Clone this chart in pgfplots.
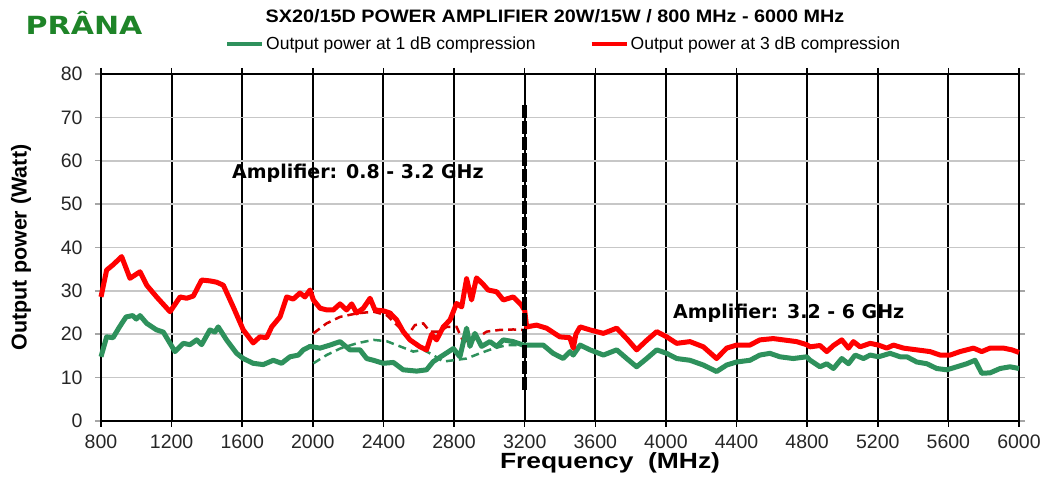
\documentclass[border=0pt]{standalone}
\usepackage{fontspec}
\setmainfont{Liberation Sans}
\newfontfamily\dejavu{DejaVu Sans}
\usepackage{pgfplots}
\pgfplotsset{compat=1.18}
\definecolor{rgreen}{RGB}{46,145,92}
\definecolor{rred}{RGB}{255,0,0}
\definecolor{logogreen}{RGB}{30,132,40}
\begin{document}
\begin{tikzpicture}
\path[use as bounding box] (0,0) rectangle (1045pt,478pt);
\begin{axis}[
  at={(101pt,57pt)}, anchor=south west,
  scale only axis, width=918pt, height=347pt,
  xmin=800, xmax=6000, ymin=0, ymax=80,
  xtick={800,1200,...,6000}, ytick={0,10,...,80},
  /pgf/number format/1000 sep={},
  /pgf/number format/assume math mode=true,
  ticklabel style={font=\fontsize{19.5}{19.5}\selectfont, text=black!85},
  xticklabel style={yshift=-4pt},
  yticklabel style={xshift=-9pt},
  tick align=outside,
  major tick length=6pt,
  x tick style={black, line width=1.5pt},
  y tick style={black!35, line width=1.5pt},
  axis line style={black, line width=2.5pt},
  xmajorgrids, ymajorgrids,
  major x grid style={black, line width=2pt},
  major y grid style={black!22, line width=1.6pt},
  xlabel={Frequency\ \ (MHz)},
  xlabel style={font=\fontsize{22}{22}\selectfont\bfseries, xscale=1.2, at={(axis description cs:0.5545,-0.121)}, anchor=center},
  ylabel={Output power (Watt)},
  ylabel style={font=\fontsize{21.5}{21.5}\selectfont\bfseries, at={(axis description cs:-0.087,0.5)}, anchor=center},
  legend style={draw=none, fill=none, font=\fontsize{17.5}{17.5}\selectfont,
    at={(0.504,1.0865)}, anchor=center, inner sep=0pt,
    /tikz/every even column/.append style={column sep=52pt},
    nodes={inner sep=2pt}},
  legend columns=2,
  legend image code/.code={\draw[#1, line width=4pt] (0pt,0pt) -- (35pt,0pt);},
  clip=false,
]
% dashed green
\addplot[rgreen, line width=2.5pt, dash pattern=on 8pt off 5pt, forget plot] coordinates {
(2003,13.3) (2078,15.2) (2154,16.7) (2248,17.9) (2343,18.7) (2418,18.4) (2494,17.2) (2569,16) (2626,16.4) (2682,15.2) (2739,13.7) (2796,14) (2871,14.4) (2946,15.6) (3022,16.7) (3098,17.5) (3200,17.5)};
% dashed red
\addplot[rred!85!black, line width=2.5pt, dash pattern=on 8pt off 5pt, forget plot] coordinates {
(2003,20.2) (2078,22.5) (2154,24) (2248,24.8) (2343,25.2) (2418,24.4) (2494,21.4) (2531,19.4) (2578,22.1) (2626,22.5) (2663,20.6) (2720,20.6) (2758,21.7) (2814,21.7) (2852,18.3) (2927,19) (2984,20.6) (3060,21) (3135,21.1) (3200,21)};
% green solid
\addplot[rgreen, line width=5pt, line join=round] coordinates {
(800,14.8) (832,19.4) (868,19.2) (905,21.7) (942,24) (980,24.3) (1000,23.5) (1021,24.3) (1059,22.5) (1115,21) (1153,20.5) (1219,16) (1266,17.9) (1304,17.6) (1342,18.7) (1370,17.6) (1417,21) (1445,20.5) (1464,21.7) (1511,18.7) (1568,15.6) (1606,14.4) (1662,13.3) (1719,13) (1776,14) (1823,13.3) (1870,14.8) (1918,15.2) (1946,16.4) (1984,17.2) (2041,16.8) (2097,17.5) (2154,18.3) (2210,16.4) (2267,16.4) (2305,14.4) (2343,14) (2399,13.3) (2456,13.5) (2512,11.8) (2588,11.5) (2644,11.8) (2682,13.7) (2739,15.2) (2796,16.7) (2833,14.8) (2871,21.4) (2890,17.2) (2918,20.2) (2956,17.2) (3003,18.3) (3041,17.2) (3079,18.7) (3135,18.3) (3192,17.5) (3248,17.5) (3305,17.5) (3361,15.6) (3418,14.4) (3457,16) (3475,15.2) (3514,17.5) (3570,16.4) (3646,15.2) (3721,16.4) (3778,14.4) (3834,12.5) (3891,14.4) (3948,16.4) (4004,15.6) (4061,14.4) (4136,14) (4212,12.9) (4287,11.4) (4344,12.9) (4400,13.6) (4476,14) (4532,15.2) (4589,15.6) (4646,14.8) (4721,14.4) (4797,14.8) (4817,14) (4873,12.5) (4911,13.2) (4949,12.1) (4996,14.4) (5034,13.2) (5072,15.2) (5119,14.4) (5157,15.2) (5204,14.8) (5270,15.6) (5327,14.8) (5365,14.8) (5421,13.6) (5478,13.2) (5534,12.1) (5591,11.8) (5648,12.5) (5704,13.2) (5751,14) (5789,11) (5836,11.1) (5893,12.1) (5949,12.5) (6000,12.1)};
\addlegendentry{Output power at 1 dB compression}
% red solid
\addplot[rred, line width=5pt, line join=round] coordinates {
(800,28.6) (832,34.8) (868,36) (917,37.9) (964,32.9) (1021,34.4) (1059,31.3) (1115,28.6) (1191,25.2) (1248,28.6) (1285,28.3) (1323,28.8) (1370,32.5) (1417,32.3) (1455,32) (1493,31.3) (1549,26.3) (1606,21) (1662,18) (1700,19.4) (1738,19.2) (1767,21.7) (1814,24) (1852,28.6) (1889,28.1) (1927,29.5) (1955,28.6) (1984,30.2) (2003,27.9) (2041,26) (2080,25.6) (2116,25.6) (2154,27) (2191,25.6) (2220,27) (2248,24.9) (2286,26) (2324,28.3) (2352,25.6) (2399,25.4) (2437,24.9) (2475,23.3) (2512,20.6) (2550,18.7) (2607,17.1) (2644,16.4) (2673,20) (2701,18.7) (2739,21.7) (2777,23.3) (2814,27.1) (2843,26.3) (2871,32.8) (2899,27.9) (2927,33) (2965,31.5) (2993,30.2) (3041,29.8) (3079,27.9) (3135,28.6) (3180,26.8) (3200,25.5) (3211,21.7) (3267,22.1) (3324,21.4) (3399,19.4) (3456,19.2) (3475,16.8) (3490,20) (3514,21.7) (3570,21) (3646,20.2) (3721,21.4) (3778,19) (3834,16.4) (3891,18.6) (3948,20.6) (4004,19.4) (4061,17.9) (4136,18.3) (4212,17.1) (4287,14.4) (4344,16.8) (4400,17.5) (4476,17.5) (4532,18.7) (4608,19) (4665,18.7) (4740,18.3) (4797,17.6) (4817,17.1) (4873,17.4) (4911,16) (4949,17.4) (4996,18.7) (5034,16.8) (5062,18.3) (5100,17.1) (5157,17.9) (5204,17.5) (5251,16.8) (5289,17.5) (5346,16.8) (5421,16.4) (5496,16) (5553,15.2) (5610,15.2) (5666,16) (5742,16.8) (5789,16) (5836,16.8) (5912,16.8) (5960,16.4) (6000,15.8)};
\addlegendentry{Output power at 3 dB compression}
% black dashed separator
\addplot[black, line width=5pt, dash pattern=on 13pt off 3pt, forget plot] coordinates {(3200,7.2) (3200,73.5)};
% annotations
\node[anchor=west, font=\dejavu\bfseries\fontsize{19}{19}\selectfont, inner sep=0pt] at (axis cs:1542,57.2) {Amplifier: 0.8 - 3.2 GHz};
\node[anchor=west, font=\dejavu\bfseries\fontsize{19}{19}\selectfont, inner sep=0pt] at (axis cs:4040,24.9) {Amplifier: 3.2 - 6 GHz};
% title and logo
\node[anchor=center, font=\fontsize{18}{18}\selectfont\bfseries, xscale=1.1] at (axis description cs:0.4946,1.167) {SX20/15D POWER AMPLIFIER 20W/15W / 800 MHz - 6000 MHz};
\node[anchor=center, font=\dejavu\bfseries\fontsize{25}{25}\selectfont, text=logogreen, xscale=1.2] at (axis description cs:-0.0185,1.148) {PRÂNA};
\end{axis}
\end{tikzpicture}
\end{document}
